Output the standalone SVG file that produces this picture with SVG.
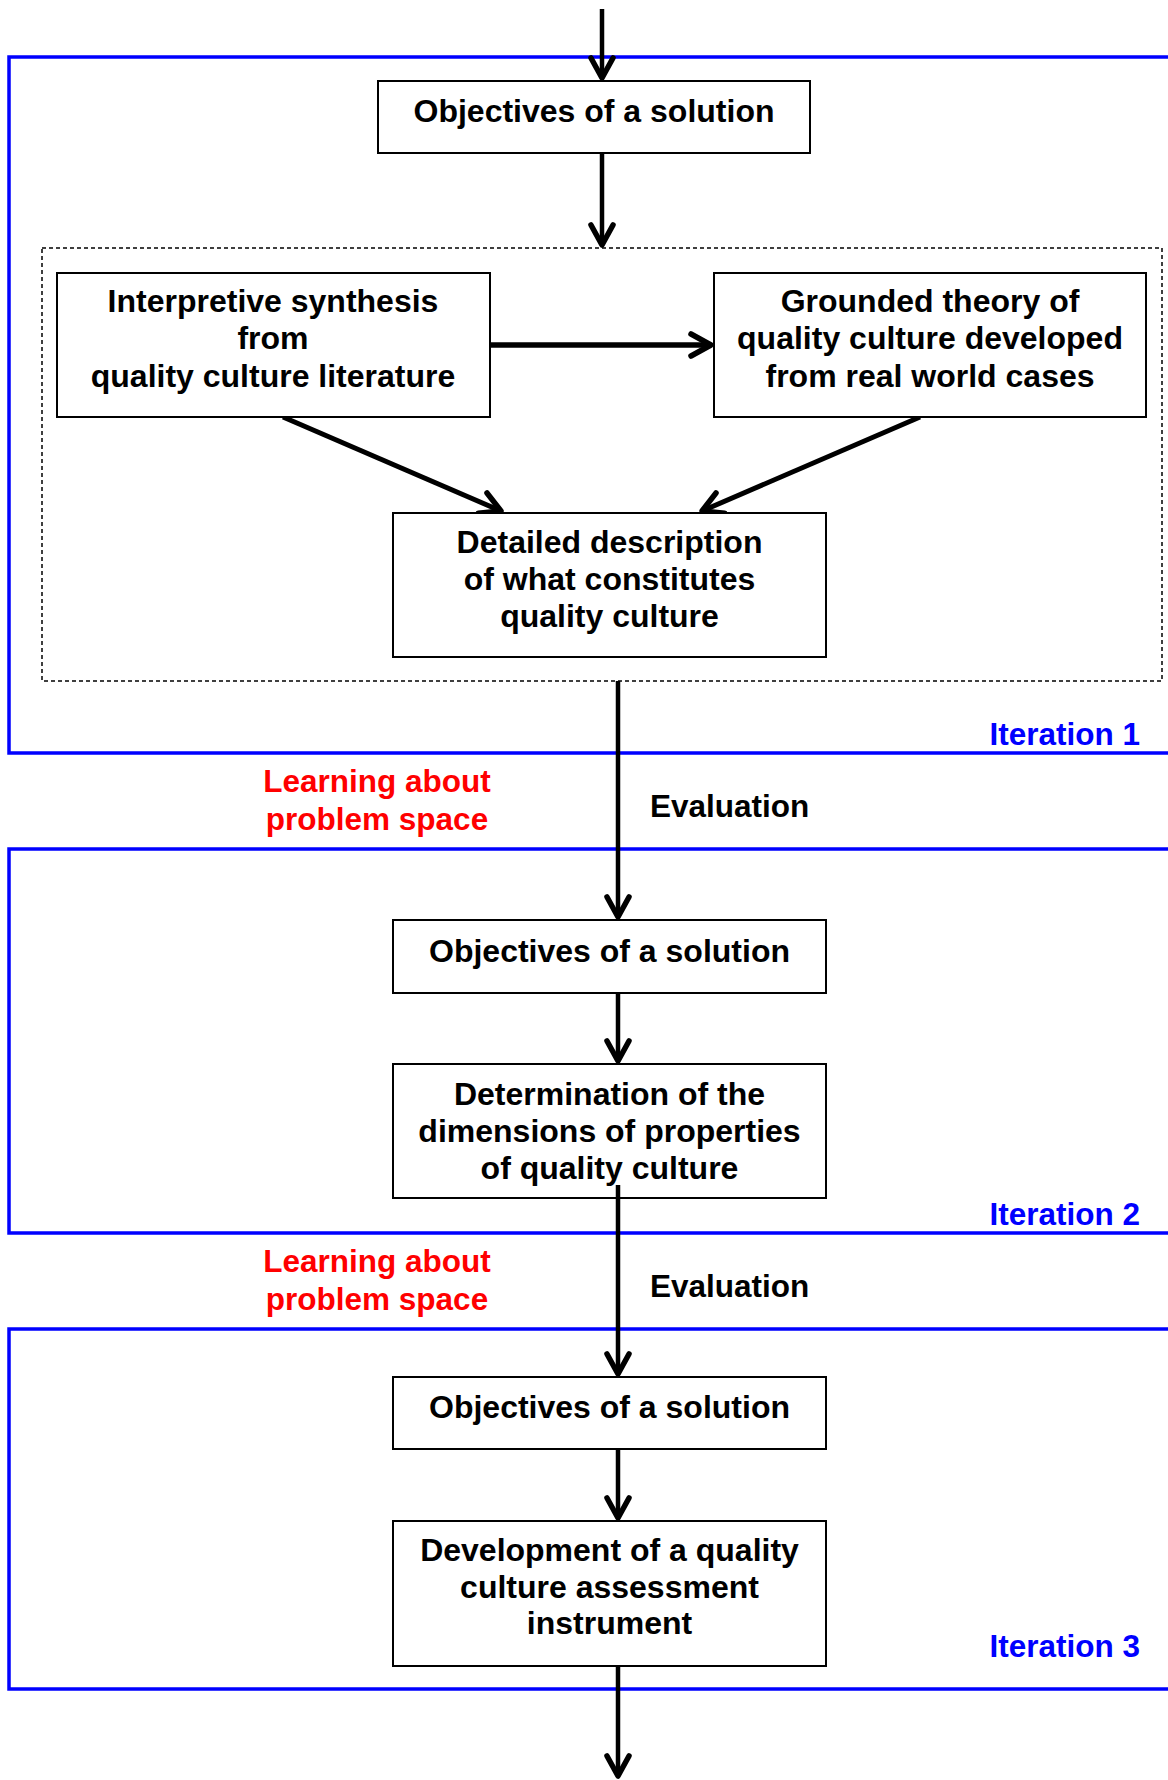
<svg xmlns="http://www.w3.org/2000/svg" width="1168" height="1780" viewBox="0 0 1168 1780">
<defs>
<style>
.t{font-family:"Liberation Sans",Arial,sans-serif;font-weight:bold;font-size:32px;fill:#000;text-anchor:middle}
.it{font-family:"Liberation Sans",Arial,sans-serif;font-weight:bold;font-size:31.5px;fill:#0000ff;text-anchor:end}
.lr{font-family:"Liberation Sans",Arial,sans-serif;font-weight:bold;font-size:31.5px;fill:#ff0000;text-anchor:middle}
.ev{font-family:"Liberation Sans",Arial,sans-serif;font-weight:bold;font-size:31.5px;fill:#000}
.box{fill:#fff;stroke:#000;stroke-width:2}
.frame{fill:none;stroke:#0000ff;stroke-width:3.5}
.c{fill:none;stroke:#000;stroke-width:4.5}
</style>
<marker id="a" viewBox="-26 -16 30 32" refX="0" refY="0" markerWidth="30" markerHeight="32" markerUnits="userSpaceOnUse" orient="auto">
<path d="M-20,-11 L0,0 L-20,11" fill="none" stroke="#000" stroke-width="5.5" stroke-linecap="round" stroke-linejoin="round"/>
</marker>
</defs>
<g id="frames">
<path class="frame" d="M1175,57 H9 V753 H1175"/>
<path class="frame" d="M1175,849 H9 V1233 H1175"/>
<path class="frame" d="M1175,1329 H9 V1689 H1175"/>
</g>
<g id="group1">
<rect x="42" y="248" width="1120" height="433" fill="none" stroke="#000" stroke-width="1.5" stroke-dasharray="4,3"/>
</g>
<g id="connectors">
<line class="c" x1="602" y1="9" x2="602" y2="78" marker-end="url(#a)"/>
<line class="c" x1="602" y1="153" x2="602" y2="245" marker-end="url(#a)"/>
<line x1="490" y1="345" x2="711" y2="345" stroke="#000" stroke-width="5.5" marker-end="url(#a)"/>
<line x1="283" y1="417" x2="501" y2="511" stroke="#000" stroke-width="5" marker-end="url(#a)"/>
<line x1="920" y1="417" x2="702" y2="511" stroke="#000" stroke-width="5" marker-end="url(#a)"/>
<line class="c" x1="618" y1="681" x2="618" y2="917" marker-end="url(#a)"/>
<line class="c" x1="618" y1="993" x2="618" y2="1061" marker-end="url(#a)"/>
<line class="c" x1="618" y1="1198" x2="618" y2="1374" marker-end="url(#a)"/>
<line class="c" x1="618" y1="1449" x2="618" y2="1518" marker-end="url(#a)"/>
<line class="c" x1="618" y1="1666" x2="618" y2="1776" marker-end="url(#a)"/>
</g>
<g id="n1">
<rect class="box" x="378" y="81" width="432" height="72"/>
<text class="t" x="594" y="122">Objectives of a solution</text>
</g>
<g id="n2">
<rect class="box" x="57" y="273" width="433" height="144"/>
<text class="t" x="273" y="312">Interpretive synthesis</text>
<text class="t" x="273" y="349">from</text>
<text class="t" x="273" y="387">quality culture literature</text>
</g>
<g id="n3">
<rect class="box" x="714" y="273" width="432" height="144"/>
<text class="t" x="930" y="312">Grounded theory of</text>
<text class="t" x="930" y="349">quality culture developed</text>
<text class="t" x="930" y="387">from real world cases</text>
</g>
<g id="n4">
<rect class="box" x="393" y="513" width="433" height="144"/>
<text class="t" x="609.5" y="553">Detailed description</text>
<text class="t" x="609.5" y="590">of what constitutes</text>
<text class="t" x="609.5" y="627">quality culture</text>
</g>
<g id="n5">
<rect class="box" x="393" y="920" width="433" height="73"/>
<text class="t" x="609.5" y="962">Objectives of a solution</text>
</g>
<g id="n6">
<rect class="box" x="393" y="1064" width="433" height="134"/>
<text class="t" x="609.5" y="1105">Determination of the</text>
<text class="t" x="609.5" y="1142">dimensions of properties</text>
<text class="t" x="609.5" y="1179">of quality culture</text>
</g>
<line class="c" x1="618" y1="1185" x2="618" y2="1198"/>
<g id="n7">
<rect class="box" x="393" y="1377" width="433" height="72"/>
<text class="t" x="609.5" y="1418">Objectives of a solution</text>
</g>
<g id="n8">
<rect class="box" x="393" y="1521" width="433" height="145"/>
<text class="t" x="609.5" y="1561">Development of a quality</text>
<text class="t" x="609.5" y="1598">culture assessment</text>
<text class="t" x="609.5" y="1634">instrument</text>
</g>
<g id="labels">
<text class="it" x="1140" y="745">Iteration 1</text>
<text class="it" x="1140" y="1225">Iteration 2</text>
<text class="it" x="1140" y="1657">Iteration 3</text>
<text class="lr" x="377" y="792">Learning about</text>
<text class="lr" x="377" y="830">problem space</text>
<text class="ev" x="650" y="817">Evaluation</text>
<text class="lr" x="377" y="1272">Learning about</text>
<text class="lr" x="377" y="1310">problem space</text>
<text class="ev" x="650" y="1297">Evaluation</text>
</g>
</svg>
